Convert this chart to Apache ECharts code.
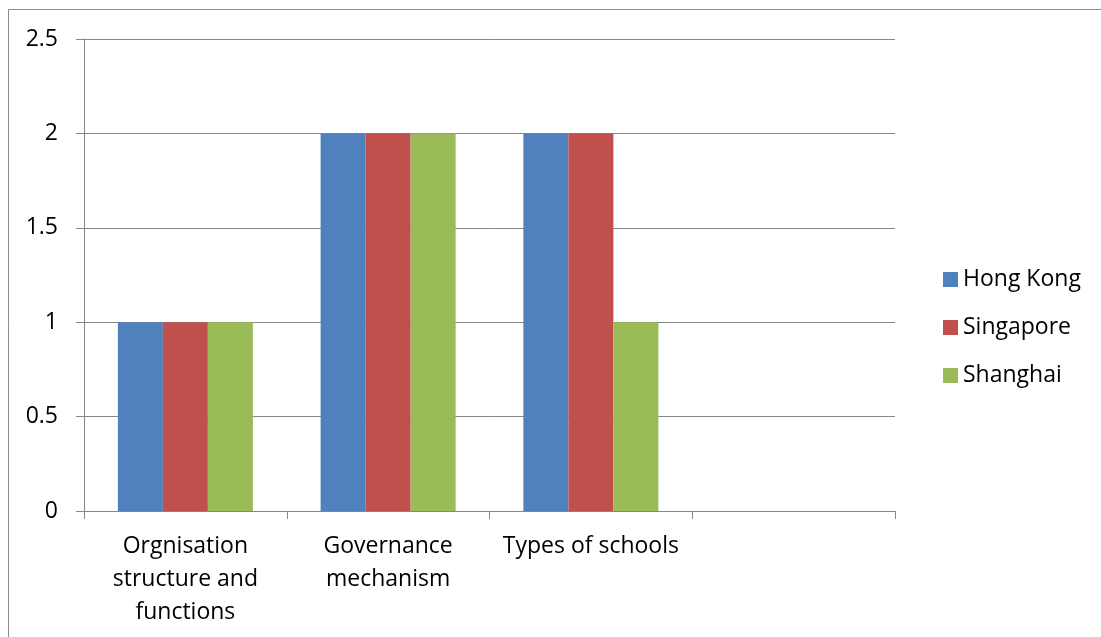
<!DOCTYPE html>
<html>
<head>
<meta charset="utf-8">
<script src="https://cdn.jsdelivr.net/npm/echarts@6/dist/echarts.min.js"></script>
<style>
  html, body { margin: 0; padding: 0; background: #fff; }
  #chart { width: 1101px; height: 637px; }
</style>
</head>
<body>
<div id="chart"></div>
<script>
// Categories along the x axis (the last slot is intentionally empty)
const categories = ['Orgnisation\nstructure and\nfunctions', 'Governance\nmechanism', 'Types of schools', ''];
// Series values per category
const hongKong  = [1, 2, 2, null];
const singapore = [1, 2, 2, null];
const shanghai  = [1, 2, 1, null];
const seriesNames = ['Hong Kong', 'Singapore', 'Shanghai'];
const seriesColors = ['#4F81BD', '#C0504D', '#9BBB59'];

const FONT = 'Open Sans';
const FS = 23;
const chart = echarts.init(document.getElementById('chart'), null, { renderer: 'canvas' });

const mk = (name, data, color) => ({
  name, type: 'bar', data,
  barGap: '0%', barCategoryGap: '33.4%',
  itemStyle: { color },
  emphasis: { disabled: true },
  animation: false
});

chart.setOption({
  animation: false,
  textStyle: { fontFamily: FONT },
  graphic: [{
    type: 'rect', silent: true,
    shape: { x: 8.5, y: 9.5, width: 1200, height: 700 },
    style: { fill: 'none', stroke: '#8c8c8c', lineWidth: 1 }
  }],
  grid: { left: 84, right: 206, top: 39, bottom: 126, containLabel: false },
  legend: {
    orient: 'vertical', left: 938, top: 263,
    itemWidth: 15, itemHeight: 15, itemGap: 25,
    icon: 'rect',
    textStyle: { fontFamily: FONT, fontSize: FS, color: '#000' },
    data: seriesNames
  },
  xAxis: {
    type: 'category', data: categories,
    axisLine: { lineStyle: { color: '#868686', width: 1 } },
    axisTick: { show: true, length: 8, alignWithLabel: false, lineStyle: { color: '#868686' } },
    axisLabel: { fontFamily: FONT, fontSize: FS, color: '#000', margin: 19, lineHeight: 33, interval: 0 },
    splitLine: { show: false }
  },
  yAxis: {
    type: 'value', min: 0, max: 2.5, interval: 0.5,
    axisLine: { show: true, lineStyle: { color: '#868686', width: 1 } },
    axisTick: { show: true, length: 8, lineStyle: { color: '#868686' } },
    axisLabel: { fontFamily: FONT, fontSize: FS, color: '#000', margin: 26 },
    splitLine: { show: true, lineStyle: { color: '#868686', width: 1 } }
  },
  series: [
    mk(seriesNames[0], hongKong, seriesColors[0]),
    mk(seriesNames[1], singapore, seriesColors[1]),
    mk(seriesNames[2], shanghai, seriesColors[2])
  ]
});
</script>
</body>
</html>
